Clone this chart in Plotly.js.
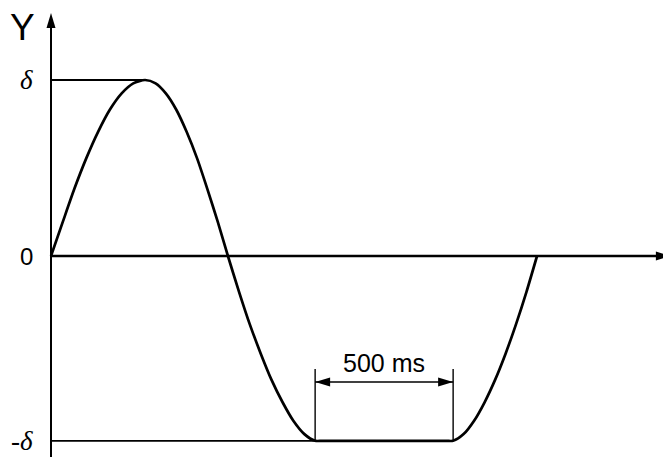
<!DOCTYPE html>
<html>
<head>
<meta charset="utf-8">
<script src="https://cdn.plot.ly/plotly-3.0.1.min.js"></script>
<style>html,body{margin:0;padding:0;background:#fff;}#chart{width:663px;height:457px;}</style>
</head>
<body>
<div id="chart"></div>
<script>
// Time (ms) measured from the origin, and displacement in units of delta
const timeMs = [0, 43, 85, 128, 171, 213, 256, 298, 341,
  379, 416, 454, 491, 529, 566, 604, 641,
  681, 720, 760, 799, 839, 878, 918, 957,
  985, 1430, 1457,
  1495, 1533, 1571, 1609, 1647, 1685, 1723, 1761];
const yDelta = [0, 0.195, 0.383, 0.556, 0.707, 0.831, 0.924, 0.981, 1,
  0.981, 0.924, 0.831, 0.707, 0.556, 0.383, 0.195, 0,
  -0.202, -0.387, -0.555, -0.704, -0.831, -0.936, -1.012, -1.05,
  -1.05, -1.05, -1.05,
  -1.012, -0.936, -0.831, -0.704, -0.555, -0.387, -0.202, 0];

const levelLabels = ['<i>δ</i>', '0', '-<i>δ</i>'];
const levelValues = [1, 0, -1.05];
const peakTime = 341;
const holdStart = 957;
const holdEnd = 1457;
const holdLabel = '500 ms';
const axisLabel = 'Y';

const xRange = [-184.8, 2217.4];
const yRange = [-1.142, 1.4545];
const dimY = -0.716;     // level of the dimension arrow
const dimTop = -0.642;   // top of the dimension extension lines
const yArrowTip = 1.38;
const xArrowTip = 2246;

const trace = {
  x: timeMs, y: yDelta, type: 'scatter', mode: 'lines',
  line: {color: '#000', width: 2.7, shape: 'spline', smoothing: 0.7},
  hoverinfo: 'skip', showlegend: false
};

function line(x0, y0, x1, y1, w) {
  return {type: 'line', xref: 'x', yref: 'y', x0: x0, y0: y0, x1: x1, y1: y1,
    line: {color: '#000', width: w}, layer: 'below'};
}
function head(xa, ya, path) {
  return {type: 'path', xref: 'x', yref: 'y', xsizemode: 'pixel', ysizemode: 'pixel',
    xanchor: xa, yanchor: ya, path: path, fillcolor: '#000', line: {width: 0}};
}

const shapes = [
  line(0, yRange[0], 0, yArrowTip - 0.05, 2),
  line(0, 0, xArrowTip - 30, 0, 2.4),
  line(0, levelValues[0], peakTime, levelValues[0], 1.8),
  line(0, levelValues[2], holdStart, levelValues[2], 1.8),
  line(holdStart, levelValues[2], holdStart, dimTop, 1.4),
  line(holdEnd, levelValues[2], holdEnd, dimTop, 1.4),
  line(holdStart, dimY, holdEnd, dimY, 1.6),
  head(0, yArrowTip, 'M0,0 L-4.5,-15 L4.5,-15 Z'),
  head(xArrowTip, 0, 'M0,0 L-15,4.5 L-15,-4.5 Z'),
  head(holdStart, dimY, 'M0,0 L15,4.5 L15,-4.5 Z'),
  head(holdEnd, dimY, 'M0,0 L-15,4.5 L-15,-4.5 Z')
];

const annotations = [];
levelLabels.forEach(function (t, i) {
  const serif = t.indexOf('δ') >= 0;
  annotations.push({
    x: 0, y: levelValues[i], xref: 'x', yref: 'y', text: t, showarrow: false,
    xanchor: 'right', yanchor: 'middle', xshift: -16,
    font: {family: serif ? 'Liberation Serif, serif' : 'Liberation Sans, Arial, sans-serif',
           size: serif ? 27 : 24, color: '#000'}
  });
});
annotations.push({
  x: 0, y: yArrowTip, xref: 'x', yref: 'y', text: axisLabel, showarrow: false,
  xanchor: 'right', yanchor: 'top', xshift: -14, yshift: 8,
  font: {family: 'Liberation Sans, Arial, sans-serif', size: 37, color: '#000'}
});
annotations.push({
  x: (holdStart + holdEnd) / 2, y: dimY, xref: 'x', yref: 'y', text: holdLabel, showarrow: false,
  xanchor: 'center', yanchor: 'bottom', yshift: 3,
  font: {family: 'Liberation Sans, Arial, sans-serif', size: 25, color: '#000'}
});

const layout = {
  width: 663, height: 457,
  margin: {l: 0, r: 0, t: 0, b: 0, pad: 0},
  paper_bgcolor: '#fff', plot_bgcolor: '#fff',
  xaxis: {range: xRange, visible: false, fixedrange: true},
  yaxis: {range: yRange, visible: false, fixedrange: true},
  shapes: shapes, annotations: annotations, showlegend: false
};

Plotly.newPlot('chart', [trace], layout, {displayModeBar: false, staticPlot: true});
</script>
</body>
</html>
